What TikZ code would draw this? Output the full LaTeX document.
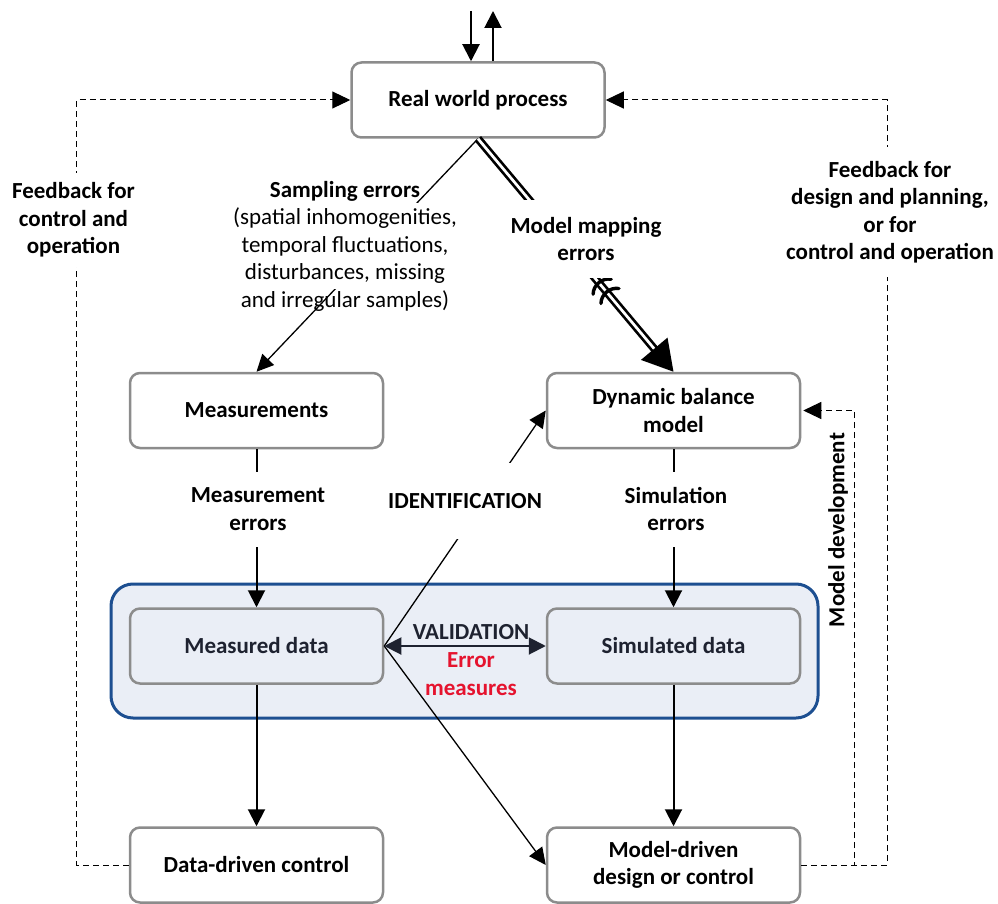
\documentclass[tikz,border=0pt]{standalone}
\usepackage{fontspec}
\setmainfont{Carlito}
\usetikzlibrary{arrows.meta,calc}
\definecolor{boxgray}{HTML}{8C8C8C}
\definecolor{valblue}{HTML}{1D4F91}
\definecolor{valfill}{HTML}{EAEEF6}
\definecolor{ink}{HTML}{1E2230}
\definecolor{errred}{HTML}{E5132E}

\begin{document}
\begin{tikzpicture}[
  x=1pt,y=-1pt,
  every node/.style={font=\fontsize{23}{27.5}\selectfont},
  box/.style={draw=boxgray,line width=2.5pt,rounded corners=10pt,fill=white,
    minimum width=253pt,minimum height=75pt,align=center,
    font=\fontsize{23}{27.5}\selectfont\bfseries},
  inbox/.style={box,fill=valfill,text=ink},
  lbl/.style={fill=white,align=center,inner sep=1pt,
    font=\fontsize{23}{27.5}\selectfont\bfseries},
  arr/.style={line width=2pt,-{Triangle[length=17pt,width=17pt]}},
  sarr/.style={line width=1.3pt,-{Triangle[length=17pt,width=16pt]}},
  dbl/.style={line width=2.7pt,double distance=2.7pt,-{Triangle[length=30pt,width=34pt]}},
  fb/.style={line width=1pt,dash pattern=on 6pt off 4pt,-{Triangle[length=18pt,width=17pt]}},
]
  \useasboundingbox (0,0) rectangle (998,904);

  % validation area
  \node[draw=valblue,line width=3pt,fill=valfill,rounded corners=22pt,
    minimum width=707pt,minimum height=134pt] (valbox) at (464.5,651) {};

  \node[box] (rwp) at (478,100) {Real world process};
  \node[box] (meas) at (256.5,410.5) {Measurements};
  \node[box] (dbm) at (673.5,410.5) {Dynamic balance\\model};
  \node[inbox] (mdata) at (256.5,646) {Measured data};
  \node[inbox] (sdata) at (673.5,646) {Simulated data};
  \node[box] (ddc) at (256.5,865) {Data-driven control};
  \node[box] (mdc) at (673.5,865) {Model-driven\\design or control};

  \coordinate (intop) at (471,11);
  \coordinate (outtop) at (493,11);
  \draw[arr] (intop) -- (intop |- rwp.north);
  \draw[arr] (outtop |- rwp.north) -- (outtop);

  \draw[sarr] (rwp.south) -- (meas.north);
  \draw[dbl] (rwp.south) -- coordinate[pos=0.635] (brka) coordinate[pos=0.675] (brkb) (dbm.north);
  \foreach \b in {brka,brkb}
    \draw[line width=3.4pt,line cap=round] ($(\b)+(-9,7.5)$) to[bend left=50] ($(\b)+(9,-7.5)$);

  \draw[arr] (meas) -- (mdata);
  \draw[arr] (dbm) -- (sdata);
  \draw[arr] (mdata) -- (ddc);
  \draw[arr] (sdata) -- (mdc);

  \draw[sarr] (mdata.east) -- (dbm.west);
  \draw[sarr] (mdata.east) -- (mdc.west);
  \draw[arr,ink,{Triangle[length=17pt,width=17pt]}-{Triangle[length=17pt,width=17pt]}] (mdata.east) -- (sdata.west);

  % feedback loops
  \draw[fb] (ddc.west) -- ++(-52,0) |- (rwp.west);
  \draw[fb] (mdc.east) -- ++(86,0) |- (rwp.east);
  \draw[fb,shorten >=2pt] (mdc.east) -- ++(53,0) |- (dbm.east);

  % labels
  \node[lbl,inner ysep=-22pt] (samplbl) at (345,246) {Sampling errors\\\mdseries(spatial inhomogenities,\\\mdseries temporal fluctuations,\\\mdseries disturbances, missing\\\mdseries and irregular samples)};
  \node[lbl,minimum height=77pt] (maplbl) at (586,239) {Model mapping\\errors};
  \node[lbl,minimum height=75pt] (merrlbl) at (258,509) {Measurement\\errors};
  \node[lbl,minimum height=75pt] (serrlbl) at (676,509) {Simulation\\errors};
  \node[lbl,minimum height=76pt] (idlbl) at (465,501) {IDENTIFICATION};
  \node[lbl,minimum height=94pt] (fbleft) at (73.5,220) {Feedback for\\control and\\operation};
  \node[lbl,minimum height=130pt] (fbright) at (890,212) {Feedback for\\design and planning,\\or for\\control and operation};
  \node[rotate=90,font=\fontsize{23}{27.5}\selectfont\bfseries] (mdev) at (838,530) {Model development};
  \node[font=\fontsize{23}{27.5}\selectfont\bfseries,text=ink] (vallbl) at (471,632) {VALIDATION};
  \node[align=center,font=\fontsize{23}{27.5}\selectfont\bfseries,text=errred] (errlbl) at (471,674) {Error\\measures};
\end{tikzpicture}
\end{document}
